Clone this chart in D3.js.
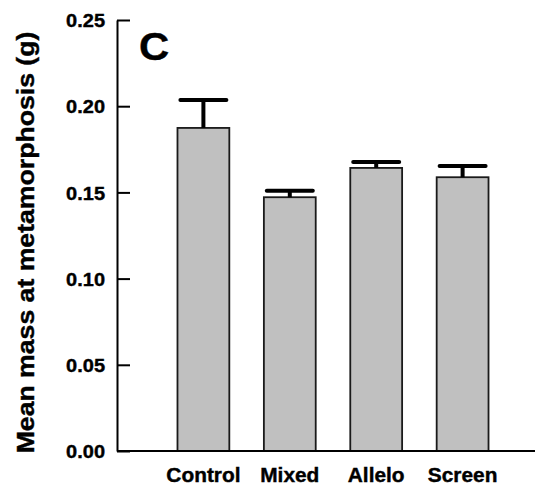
<!DOCTYPE html>
<html>
<head>
<meta charset="utf-8">
<script src="https://cdn.jsdelivr.net/npm/d3@7"></script>
<style>
  body { margin: 0; background: #fff; }
  text { font-family: "Liberation Sans", Arial, sans-serif; font-weight: bold; fill: #000;
         stroke: #000; stroke-width: 0.4px; }
</style>
</head>
<body>
<svg id="chart" width="535" height="491"></svg>
<script>
// treatments and mean mass at metamorphosis (g), with SE
const groups = ["Control", "Mixed", "Allelo", "Screen"];
const means = [0.1874, 0.1472, 0.1642, 0.1588];
const errors = [0.0162, 0.0038, 0.0034, 0.0065];
const yTicks = [0, 0.05, 0.10, 0.15, 0.20, 0.25];

const svg = d3.select("#chart");

const y = d3.scaleLinear().domain([0, 0.25]).range([451, 20]);
const x = d3.scaleBand().domain(groups).range([160.2, 505.8])
    .paddingInner(0.4).paddingOuter(0.2);

const data = groups.map((g, i) => ({ group: g, mean: means[i], se: errors[i] }));

// bars
svg.selectAll("rect.bar")
  .data(data)
  .join("rect").attr("class", "bar")
    .attr("x", d => x(d.group))
    .attr("y", d => y(d.mean))
    .attr("width", x.bandwidth())
    .attr("height", d => y(0) - y(d.mean))
    .style("fill", "#c0c0c0")
    .style("stroke", "#1a1a1a")
    .style("stroke-width", 1.8);

// error bars (upper only)
const err = svg.selectAll("g.err")
  .data(data)
  .join("g").attr("class", "err")
    .attr("transform", d => `translate(${x(d.group) + x.bandwidth() / 2},0)`);
err.append("line")
    .attr("y1", d => y(d.mean)).attr("y2", d => y(d.mean + d.se))
    .style("stroke", "#000").style("stroke-width", 4);
err.append("line")
    .attr("x1", -23).attr("x2", 23)
    .attr("y1", d => y(d.mean + d.se)).attr("y2", d => y(d.mean + d.se))
    .style("stroke", "#000").style("stroke-width", 4)
    .style("stroke-linecap", "round");

// baseline
svg.append("line")
    .attr("x1", 117).attr("x2", 535)
    .attr("y1", y(0)).attr("y2", y(0))
    .style("stroke", "#000").style("stroke-width", 2);

// y axis with inward ticks
const yAxis = svg.append("g")
    .attr("transform", "translate(117,0)")
    .call(d3.axisLeft(y).tickValues(yTicks).tickFormat(d3.format(".2f"))
        .tickSizeInner(-13).tickSizeOuter(0));
yAxis.select(".domain").style("stroke", "#000").style("stroke-width", 2);
yAxis.selectAll(".tick line").style("stroke", "#000").style("stroke-width", 2);
yAxis.selectAll(".tick text")
    .attr("x", null)
    .attr("dy", "0.36em")
    .attr("transform", "translate(-12,0) scale(1.08,1)")
    .style("font-size", "18.5px")
    .style("font-family", "'Liberation Sans', Arial, sans-serif")
    .style("font-weight", "bold")
    .style("text-anchor", "end");

// category labels
svg.selectAll("text.cat")
  .data(groups)
  .join("text").attr("class", "cat")
    .attr("transform", d => `translate(${x(d) + x.bandwidth() / 2},481.5) scale(1.07,1)`)
    .attr("text-anchor", "middle")
    .style("font-size", "19.5px")
    .text(d => d);

// y axis title
svg.append("text")
    .attr("transform", "translate(34,242.5) rotate(-90) scale(1.11,1)")
    .attr("text-anchor", "middle")
    .style("font-size", "24px")
    .text("Mean mass at metamorphosis (g)");

// panel letter
svg.append("text")
    .attr("transform", "translate(139,60) scale(1.1,1)")
    .style("font-size", "38px")
    .text("C");
</script>
</body>
</html>
